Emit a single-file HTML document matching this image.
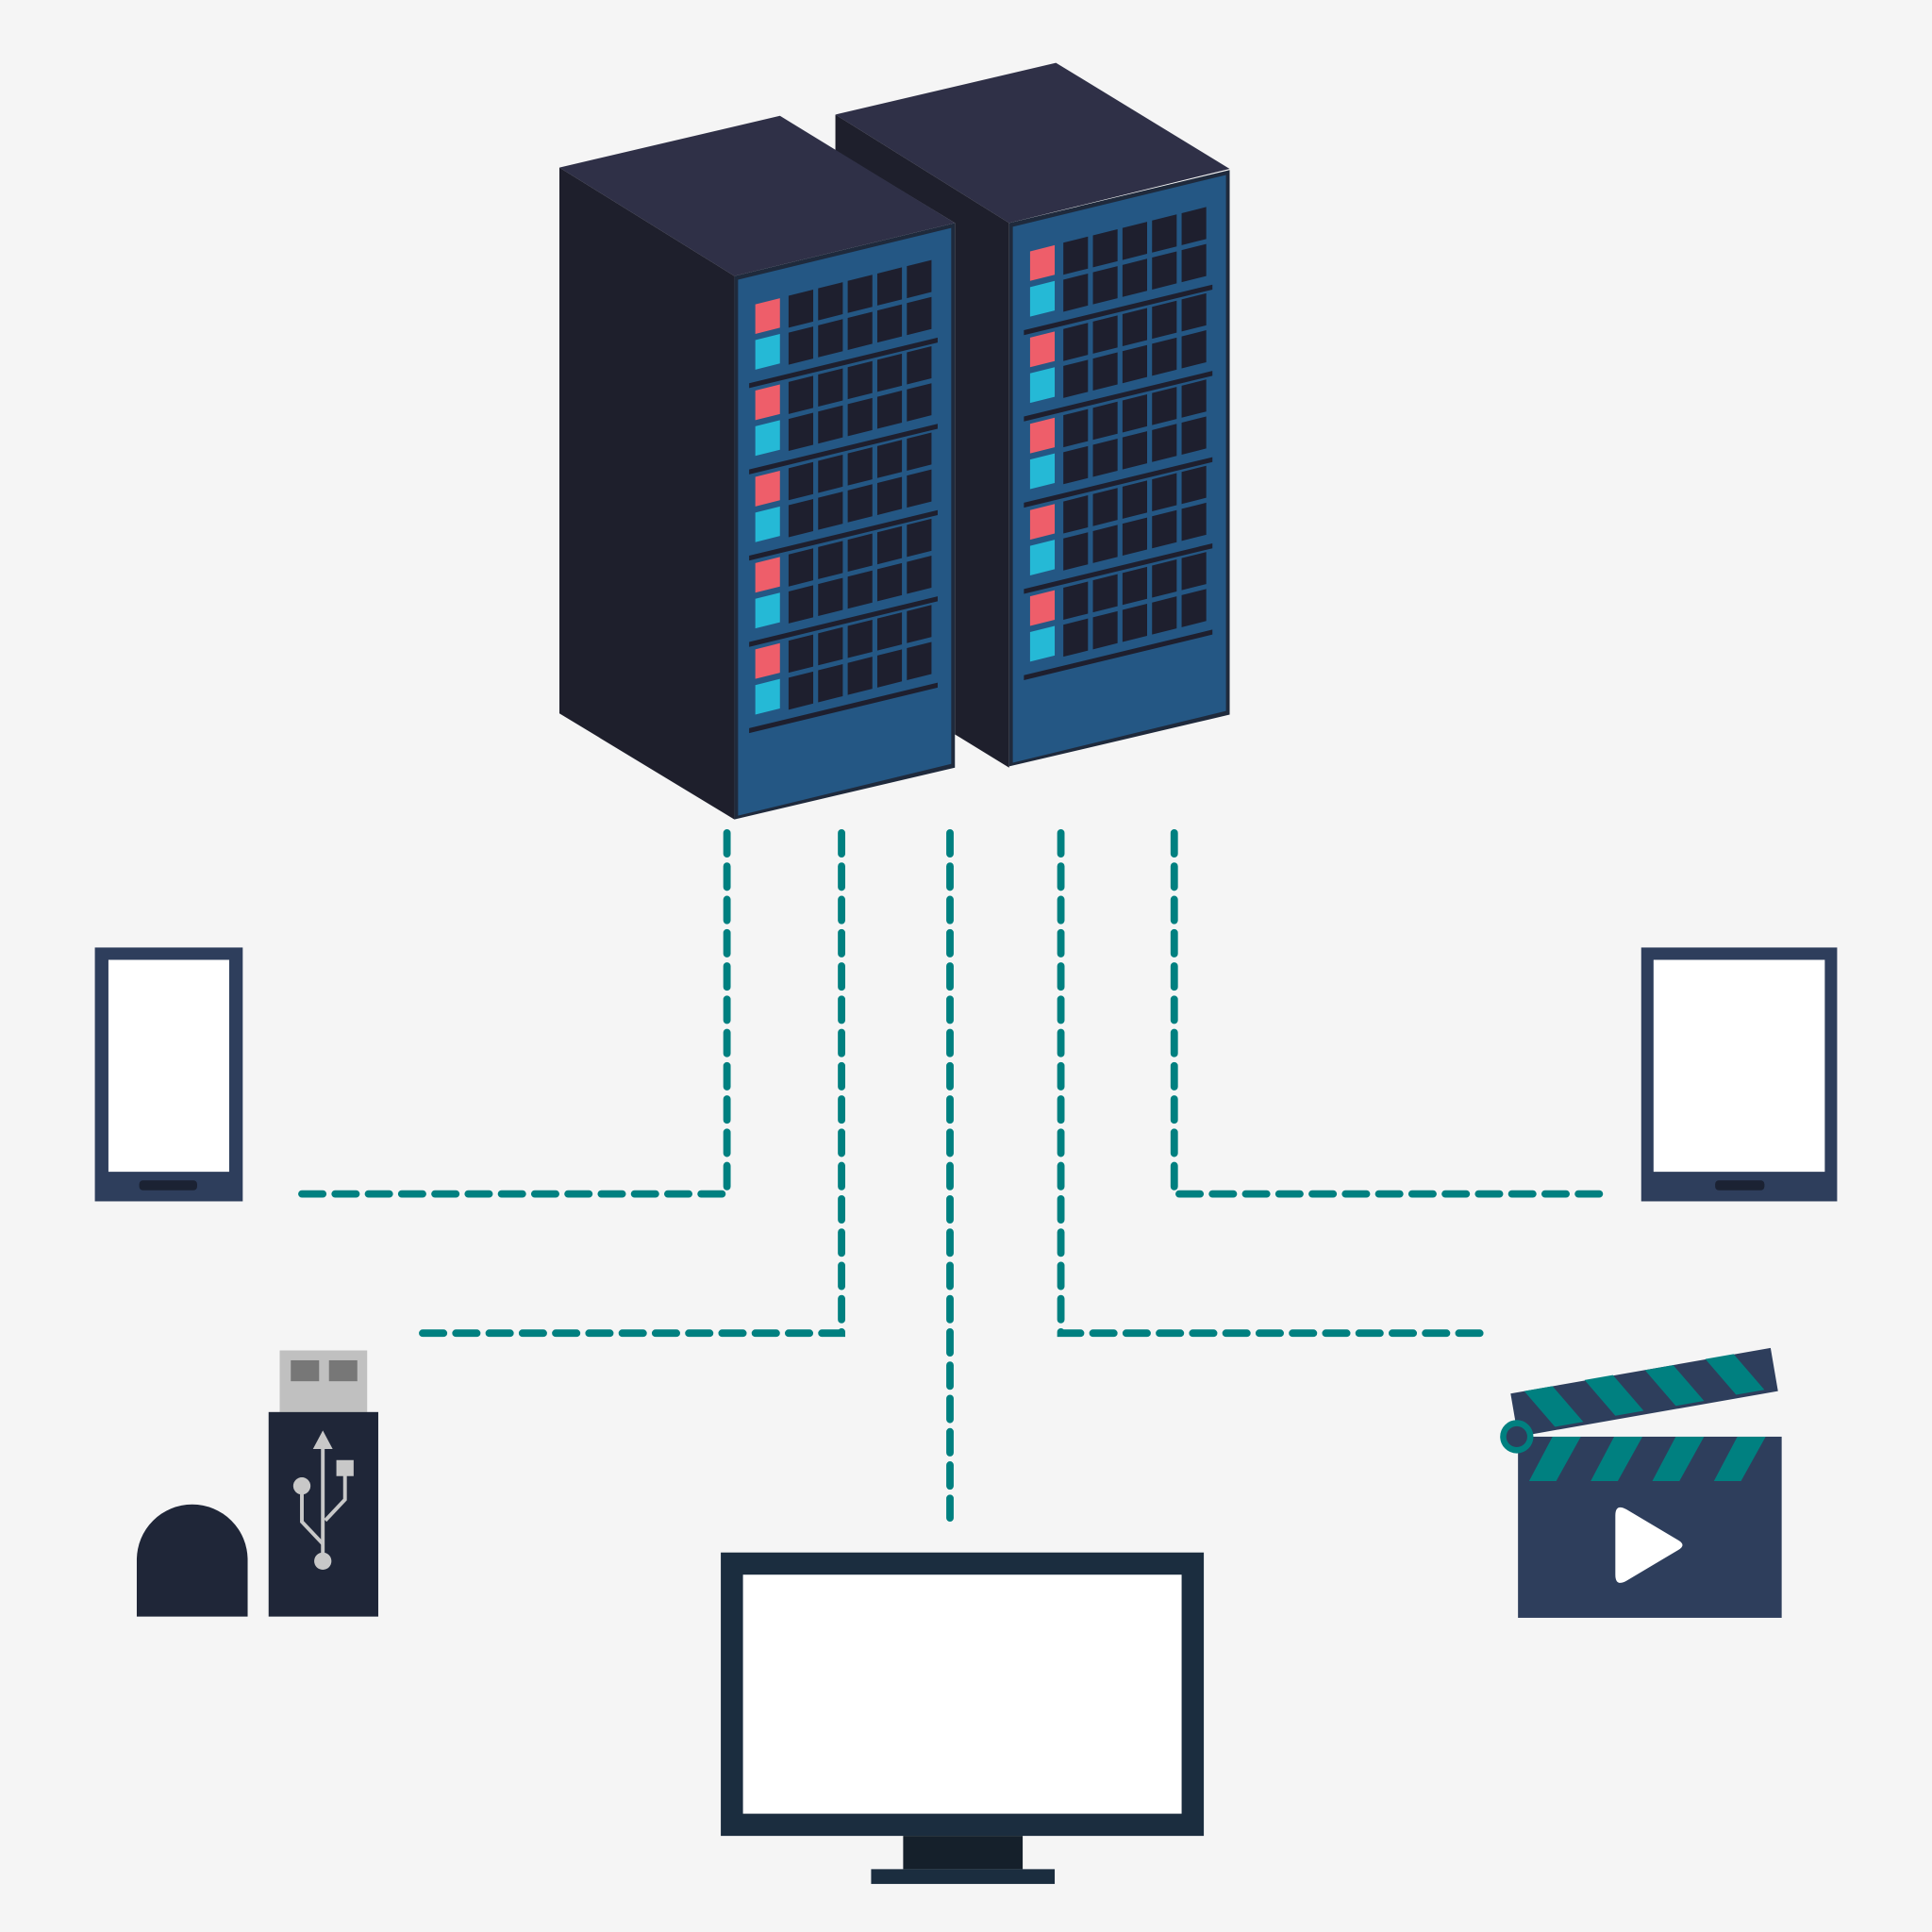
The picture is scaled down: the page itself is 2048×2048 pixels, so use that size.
<!DOCTYPE html>
<html><head><meta charset="utf-8"><style>html,body{margin:0;padding:0;background:#f5f5f5}svg{display:block}</style></head>
<body>
<svg width="2048" height="2048" viewBox="0 0 1568 1568" xmlns="http://www.w3.org/2000/svg">
<rect width="1568" height="1568" fill="#f5f5f5"/>
<defs>
<g id="front">
  <polygon points="0,0 179,-43 179,399 0,441" fill="#1f2a3c"/>
  <polygon points="3,3 176,-39 176,396 3,438" fill="#245784"/>
  <g id="grp">
    <polygon points="17,23 37,18 37,42 17,47" fill="#ee5e6a"/>
    <polygon points="17,52 37,47 37,71 17,76" fill="#25b9d6"/>
    <g fill="#1e1f2e">
      <polygon points="44,16 64,11 64,37 44,42"/>
      <polygon points="68,10 88,5 88,31 68,36"/>
      <polygon points="92,4 112,-1 112,25 92,30"/>
      <polygon points="116,-2 136,-7 136,19 116,24"/>
      <polygon points="140,-8 160,-13 160,13 140,18"/>
      <polygon points="44,46 64,41 64,67 44,72"/>
      <polygon points="68,40 88,35 88,61 68,66"/>
      <polygon points="92,34 112,29 112,55 92,60"/>
      <polygon points="116,28 136,23 136,49 116,54"/>
      <polygon points="140,22 160,17 160,43 140,48"/>
      <polygon points="12,87 165,50 165,54 12,91"/>
    </g>
  </g>
  <use href="#grp" y="70"/>
  <use href="#grp" y="140"/>
  <use href="#grp" y="210"/>
  <use href="#grp" y="280"/>
</g>
</defs>
<!-- right server (behind) -->
<polygon points="678,93 857,51 998,137 819,181" fill="#2f3047"/>
<polygon points="678,93 819,181 819,623 775,596 775,181 678,122" fill="#1e1f2c"/>
<use href="#front" x="819" y="181"/>
<!-- left server -->
<polygon points="454,136 633,94 775,181 596,224" fill="#2f3047"/>
<polygon points="454,136 596,224 596,665 454,579" fill="#1e1f2c"/>
<use href="#front" x="596" y="224"/>

<!-- dashed connectors -->
<g fill="none" stroke="#008080" stroke-width="6" stroke-dasharray="17 10" stroke-linecap="round">
  <path d="M590,676 V969 H244"/>
  <path d="M683,676 V1082 H340"/>
  <path d="M771,676 V1232"/>
  <path d="M861,676 V1082 H1205"/>
  <path d="M953,676 V969 H1300"/>
</g>

<!-- phone -->
<rect x="77" y="769" width="120" height="206" fill="#2e3e5c"/>
<rect x="88" y="779" width="98" height="172" fill="#fff"/>
<rect x="113" y="958" width="47" height="8" rx="3" fill="#1b2233"/>
<!-- tablet -->
<rect x="1332" y="769" width="159" height="206" fill="#2e3e5c"/>
<rect x="1342" y="779" width="139" height="172" fill="#fff"/>
<rect x="1392" y="958" width="40" height="8" rx="3" fill="#1b2233"/>

<!-- monitor -->
<rect x="585" y="1260" width="392" height="230" fill="#1b2d3f"/>
<rect x="603" y="1278" width="356" height="194" fill="#fff"/>
<rect x="733" y="1490" width="97" height="27" fill="#15202b"/>
<rect x="707" y="1517" width="149" height="12" fill="#1b2d3f"/>

<!-- usb -->
<rect x="227" y="1096" width="71" height="50" fill="#c0c0c0"/>
<rect x="236" y="1104" width="23" height="17" fill="#777"/>
<rect x="267" y="1104" width="23" height="17" fill="#777"/>
<rect x="218" y="1146" width="89" height="166" fill="#1f2638"/>
<g stroke="#c8c8c8" stroke-width="3" fill="none">
  <path d="M262,1175 V1265"/>
  <path d="M245,1208 V1235 L262,1253"/>
  <path d="M280,1197 V1217 L264,1234"/>
</g>
<polygon points="262,1161 254,1176 270,1176" fill="#c8c8c8"/>
<circle cx="245" cy="1206" r="7" fill="#c8c8c8"/>
<rect x="273" y="1185" width="14" height="13" fill="#c8c8c8"/>
<circle cx="262" cy="1267" r="7" fill="#c8c8c8"/>
<path d="M111,1312 V1266 A45,45 0 0 1 201,1266 V1312 Z" fill="#1f2638"/>

<!-- clapperboard -->
<rect x="1232" y="1166" width="214" height="147" fill="#2e3e5c"/>
<g fill="#008080">
  <polygon points="1260,1166 1283,1166 1263,1202 1241,1202"/>
  <polygon points="1310,1166 1333,1166 1313,1202 1291,1202"/>
  <polygon points="1360,1166 1383,1166 1363,1202 1341,1202"/>
  <polygon points="1410,1166 1433,1166 1413,1202 1391,1202"/>
</g>
<polygon points="1226,1131 1437,1094 1443,1129 1232,1166" fill="#2e3e5c"/>
<g fill="#008080">
  <polygon points="1237,1129 1260,1125 1285,1154 1262,1158"/>
  <polygon points="1286,1120 1309,1116 1334,1145 1311,1149"/>
  <polygon points="1335,1112 1358,1108 1383,1137 1360,1141"/>
  <polygon points="1384,1103 1407,1099 1432,1128 1409,1132"/>
</g>
<circle cx="1231" cy="1166" r="11" fill="#2e3e5c" stroke="#008080" stroke-width="5"/>
<path d="M1311,1230 Q1311,1220 1320,1225 L1362,1250 Q1369,1254 1362,1258 L1320,1283 Q1311,1288 1311,1278 Z" fill="#fff"/>
</svg>
</body></html>
